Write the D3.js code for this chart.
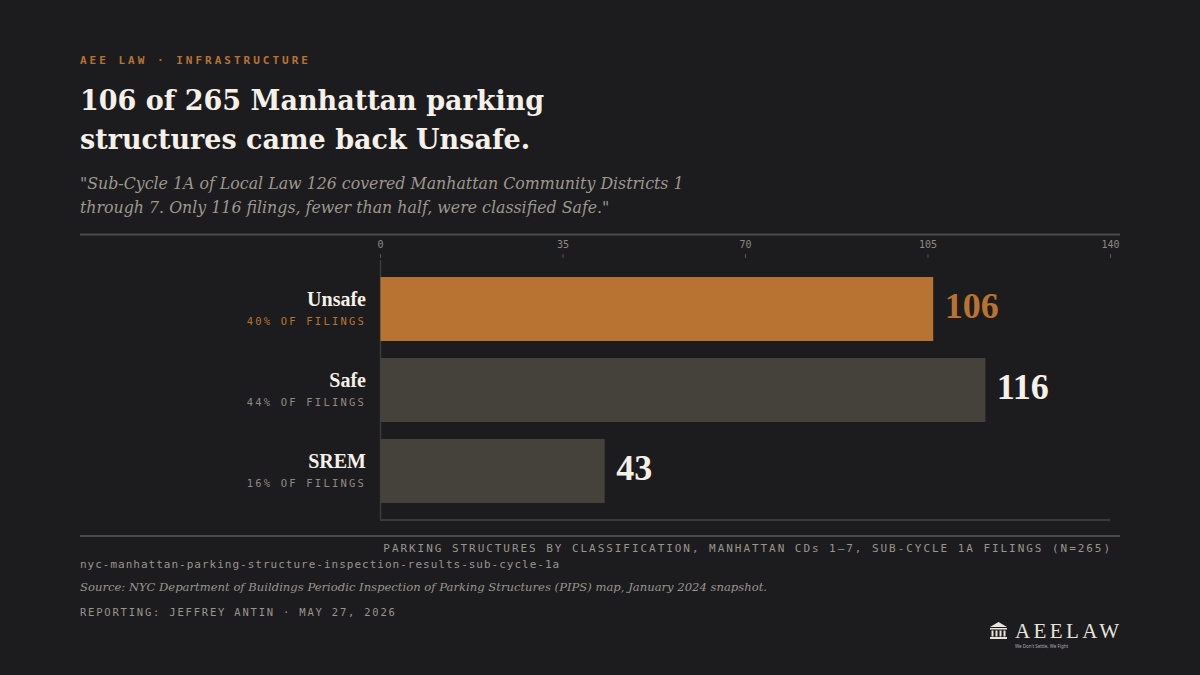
<!DOCTYPE html>
<html>
<head>
<meta charset="utf-8">
<script src="https://cdn.jsdelivr.net/npm/d3@7"></script>
<style>
  html, body { margin: 0; padding: 0; background: #1c1c1e; }
  svg { display: block; }
</style>
</head>
<body>
<div id="chart"></div>
<script>
const width = 1200
const height = 675
const categories = ["Unsafe", "Safe", "SREM"]
const counts = [106, 116, 43]
const shares = ["40% OF FILINGS", "44% OF FILINGS", "16% OF FILINGS"]
const tickValues = [0, 35, 70, 105, 140]

const serif = "'DejaVu Serif', 'Liberation Serif', serif"
const mono = "'DejaVu Sans Mono', 'Liberation Mono', monospace"
const copper = "#b87333"
const muted = "#45413b"
const ink = "#f5f0e8"

const svg = d3.select("#chart").append("svg")
  .attr("width", width)
  .attr("height", height)

svg.append("rect").attr("width", width).attr("height", height).attr("fill", "#1c1c1e")

// Header
svg.append("text")
  .attr("x", 80).attr("y", 64)
  .style("font-family", mono).style("font-size", "11px").style("font-weight", "bold")
  .style("letter-spacing", "3px").attr("fill", copper)
  .text("AEE LAW · INFRASTRUCTURE")

const title = svg.append("text")
  .style("font-family", serif).style("font-size", "27px").style("font-weight", "bold")
  .attr("fill", ink)
title.append("tspan").attr("x", 80).attr("y", 110).text("106 of 265 Manhattan parking")
title.append("tspan").attr("x", 80).attr("y", 149).text("structures came back Unsafe.")

const sub = svg.append("text")
  .style("font-family", serif).style("font-size", "15.8px").style("font-style", "italic")
  .attr("fill", "#9d978e")
sub.append("tspan").attr("x", 80).attr("y", 189)
  .text("\"Sub-Cycle 1A of Local Law 126 covered Manhattan Community Districts 1")
sub.append("tspan").attr("x", 80).attr("y", 213)
  .text("through 7. Only 116 filings, fewer than half, were classified Safe.\"")

svg.append("line").attr("x1", 80).attr("x2", 1120).attr("y1", 234.5).attr("y2", 234.5)
  .attr("stroke", "#4a4a4a").attr("stroke-width", 2)

// Scales
const x = d3.scaleLinear([0, 140], [380, 1110])
const y = d3.scaleBand(categories, [260, 520]).padding(0.21)

// Top axis
const xAxis = d3.axisTop(x).tickValues(tickValues).tickSize(4).tickPadding(6)
const gx = svg.append("g").attr("transform", "translate(0,258)").call(xAxis)
gx.select(".domain").remove()
gx.selectAll("line").attr("stroke", "#555")
gx.selectAll("text").attr("fill", "#8f8a82")
  .style("font-family", mono).style("font-size", "10px")

// Frame lines
svg.append("line").attr("x1", 380.5).attr("x2", 380.5).attr("y1", 260).attr("y2", 520)
  .attr("stroke", "#3a3a3a").attr("stroke-width", 1.5)
svg.append("line").attr("x1", 380).attr("x2", 1110).attr("y1", 520).attr("y2", 520)
  .attr("stroke", "#3a3a3a").attr("stroke-width", 2)

// Bars
const rows = categories.map((c, i) => ({ name: c, value: counts[i], share: shares[i] }))

svg.append("g").selectAll("rect").data(rows).join("rect")
  .attr("x", x(0) + 0.5)
  .attr("y", d => y(d.name))
  .attr("width", d => x(d.value) - x(0))
  .attr("height", y.bandwidth())
  .attr("fill", (d, i) => i === 0 ? copper : muted)

// Value labels
svg.append("g").selectAll("text").data(rows).join("text")
  .attr("x", d => x(d.value) + 12)
  .attr("y", d => y(d.name) + y.bandwidth() / 2 + 9)
  .style("font-family", "'Liberation Serif', serif").style("font-size", "36px").style("font-weight", "bold")
  .attr("fill", (d, i) => i === 0 ? copper : ink)
  .text(d => d.value)

// Category labels
const lab = svg.append("g").selectAll("g").data(rows).join("g")
  .attr("transform", d => `translate(366,${y(d.name) + y.bandwidth() / 2})`)
lab.append("text").attr("y", -3).attr("text-anchor", "end")
  .style("font-family", "'Liberation Serif', serif").style("font-size", "20px").style("font-weight", "bold")
  .attr("fill", ink).text(d => d.name)
lab.append("text").attr("y", 16).attr("text-anchor", "end")
  .style("font-family", mono).style("font-size", "10.5px").style("letter-spacing", "2.2px")
  .attr("fill", (d, i) => i === 0 ? copper : "#8f8a82").text(d => d.share)

// Footer
svg.append("line").attr("x1", 80).attr("x2", 1120).attr("y1", 536).attr("y2", 536)
  .attr("stroke", "#4a4a4a").attr("stroke-width", 2)

svg.append("text").attr("x", 1112).attr("y", 552).attr("text-anchor", "end")
  .style("font-family", mono).style("font-size", "11px").style("letter-spacing", "1.95px")
  .attr("fill", "#9a958d")
  .text("PARKING STRUCTURES BY CLASSIFICATION, MANHATTAN CDs 1–7, SUB-CYCLE 1A FILINGS (N=265)")

svg.append("text").attr("x", 80).attr("y", 568)
  .style("font-family", mono).style("font-size", "11px").style("letter-spacing", "1px")
  .attr("fill", "#9a958d")
  .text("nyc-manhattan-parking-structure-inspection-results-sub-cycle-1a")

svg.append("text").attr("x", 80).attr("y", 591)
  .style("font-family", serif).style("font-size", "11.6px").style("font-style", "italic")
  .attr("fill", "#9a958d")
  .text("Source: NYC Department of Buildings Periodic Inspection of Parking Structures (PIPS) map, January 2024 snapshot.")

svg.append("text").attr("x", 80).attr("y", 616)
  .style("font-family", mono).style("font-size", "10.5px").style("letter-spacing", "1.8px")
  .attr("fill", "#9a958d")
  .text("REPORTING: JEFFREY ANTIN · MAY 27, 2026")

// Logo
const logo = svg.append("g").attr("transform", "translate(990,622)")
logo.append("path").attr("d", "M0,5 L8.5,0 L17,5 Z").attr("fill", "#e8e4dc")
logo.append("rect").attr("x", 0).attr("y", 6).attr("width", 17).attr("height", 1.5).attr("fill", "#e8e4dc")
d3.range(4).forEach(i => {
  logo.append("rect").attr("x", 1.5 + i * 4).attr("y", 8.5).attr("width", 2).attr("height", 6).attr("fill", "#e8e4dc")
})
logo.append("rect").attr("x", 0).attr("y", 15).attr("width", 17).attr("height", 2).attr("fill", "#e8e4dc")
logo.append("text").attr("x", 25).attr("y", 16)
  .style("font-family", "'Liberation Serif', serif").style("font-size", "21px")
  .style("letter-spacing", "3.4px").attr("fill", "#e8e4dc").text("AEELAW")
logo.append("text").attr("x", 25).attr("y", 26)
  .style("font-family", "'Noto Sans', sans-serif").style("font-size", "4.5px")
  .attr("fill", "#aaa").text("We Don't Settle, We Fight")
</script>
</body>
</html>
